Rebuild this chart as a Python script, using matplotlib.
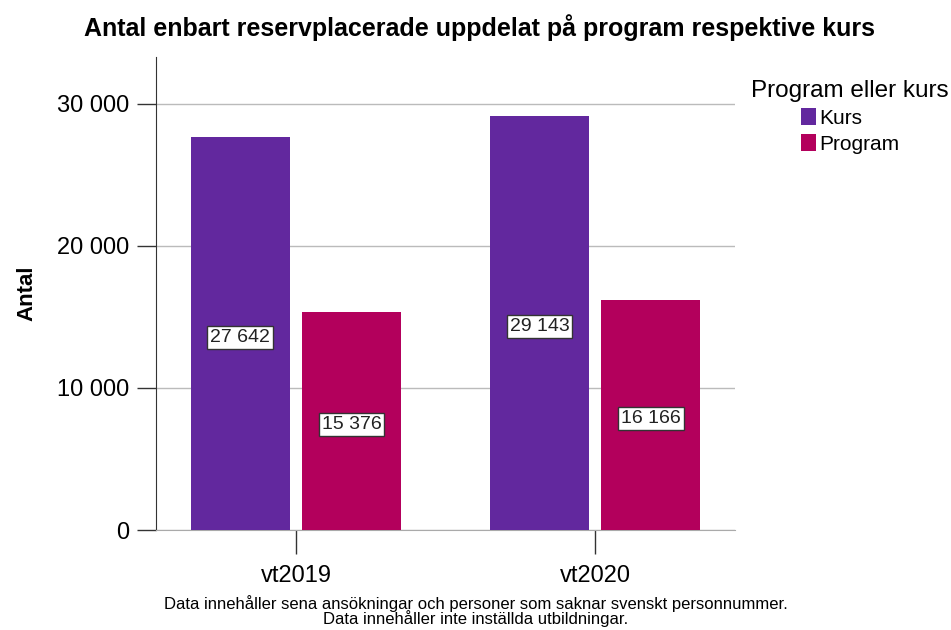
import matplotlib.pyplot as plt
import numpy as np

# data
terms = ["vt2019", "vt2020"]
kurs = [27642, 29143]
program = [15376, 16166]
series_names = ["Kurs", "Program"]
series_colors = ["#62289e", "#b3005c"]
yticks = [0, 10000, 20000, 30000]


def fmt(v):
    return f"{v:,}".replace(",", " ")


plt.rcParams['font.family'] = ['Liberation Sans', 'DejaVu Sans']

fig = plt.figure(figsize=(9.51, 6.3), dpi=100)
ax = fig.add_axes([0.164, 0.1587, 0.609, 0.7508])

x = np.arange(len(terms))
width = 0.331
offset = 0.186

for vals, name, color, sign in zip([kurs, program], series_names, series_colors, [-1, 1]):
    bars = ax.bar(x + sign * offset, vals, width=width, color=color, label=name, zorder=3)
    for b, v in zip(bars, vals):
        ax.text(b.get_x() + b.get_width() / 2, v / 2 - 250, fmt(v), ha='center', va='center',
                fontsize=14, color='#222222', zorder=4,
                bbox=dict(boxstyle='square,pad=0.15', fc='white', ec='#333333', lw=1))

ax.set_xlim(-0.468, 1.468)
ax.set_ylim(0, 33300)
ax.set_yticks(yticks)
ax.set_yticklabels([fmt(t) for t in yticks], fontsize=17)
ax.set_xticks(x)
ax.set_xticklabels(terms, fontsize=17)
ax.yaxis.grid(True, color='#bbbbbb', lw=1, zorder=0)
ax.set_axisbelow(True)

for s in ['top', 'right']:
    ax.spines[s].set_visible(False)
ax.spines['left'].set_color('#333333')
ax.spines['bottom'].set_color('#aaaaaa')
ax.tick_params(axis='y', length=14, width=1, color='#333333', pad=5)
ax.tick_params(axis='x', length=17, width=1, color='#333333', pad=8)

ax.set_ylabel("Antal", fontsize=16, fontweight='bold', labelpad=14)

fig.suptitle("Antal enbart reservplacerade uppdelat på program respektive kurs",
             fontsize=18, fontweight='bold', x=0.504, y=0.977)

leg = ax.legend(title="Program eller kurs", loc='upper left', bbox_to_anchor=(0.779, 0.89),
                bbox_transform=fig.transFigure, frameon=False, fontsize=15,
                title_fontsize=17.5, handlelength=0.75, handleheight=0.9,
                handletextpad=0.15, labelspacing=0.3, borderpad=0)

fig.text(0.5, 0.005, "Data innehåller sena ansökningar och personer som saknar svenskt personnummer.\n"
         "Data innehåller inte inställda utbildningar.",
         ha='center', va='bottom', fontsize=12, linespacing=0.85,
         family=['Liberation Sans Narrow', 'Liberation Sans', 'DejaVu Sans'])

fig.savefig("out.png", dpi=100)
